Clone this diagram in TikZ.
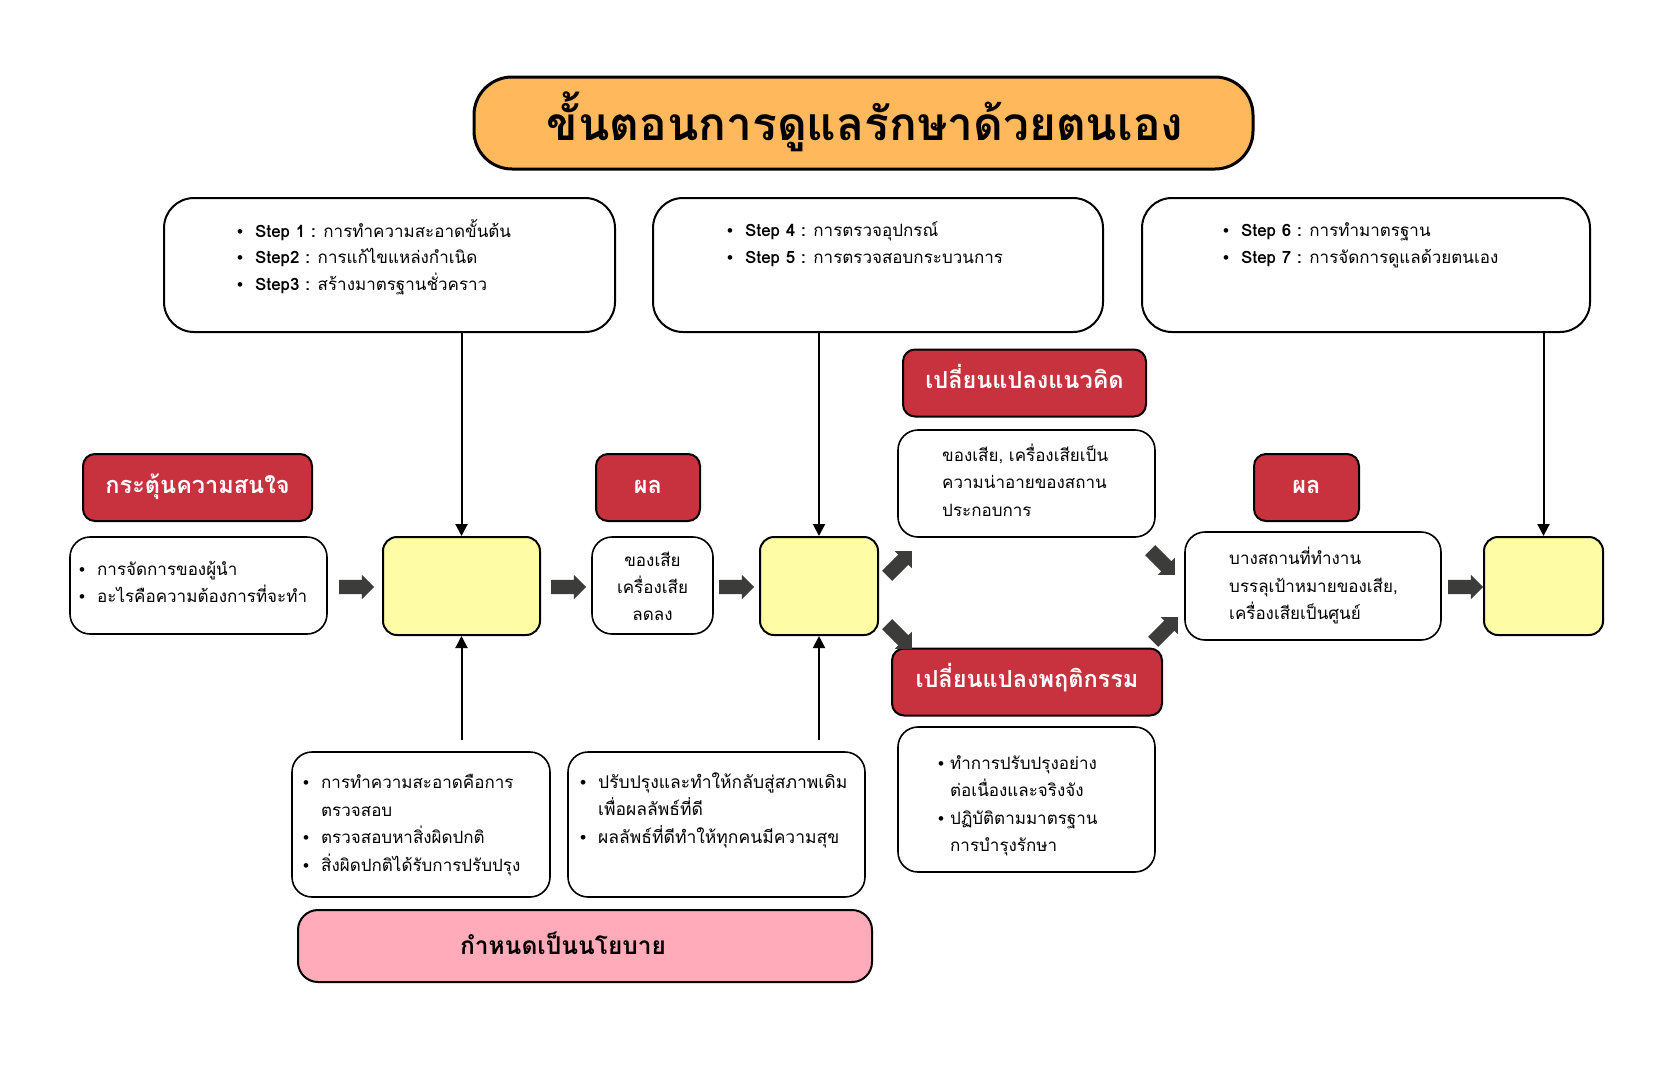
\documentclass[tikz,border=0pt]{standalone}
\usepackage{fontspec}
\usetikzlibrary{shapes.arrows,arrows.meta}
\newfontfamily\thai[Script=Thai]{Loma}
\newfontfamily\bulfont{Liberation Sans}
\definecolor{titleor}{HTML}{FFB85C}
\definecolor{lblred}{HTML}{C8313E}
\definecolor{lyel}{HTML}{FFFCA6}
\definecolor{lpink}{HTML}{FFABBA}
\definecolor{darr}{HTML}{3C3C3A}
\newcommand\bul{\makebox[18pt][l]{\bulfont •}}
\newcommand\bulx{\makebox[12pt][l]{\bulfont •}}
\newcommand\ind{\hspace*{18pt}}
\newcommand\indx{\hspace*{12pt}}
\tikzset{
  titlebox/.style={draw, line width=3pt, fill=titleor, rounded corners=38pt,
    minimum width=779pt, minimum height=92pt, inner sep=0pt},
  stepbox/.style={draw, line width=2pt, fill=white, rounded corners=30pt,
    minimum height=134pt, inner sep=0pt},
  redlbl/.style={draw, line width=2pt, fill=lblred, rounded corners=12pt,
    minimum height=67pt, inner sep=0pt, text=white, text height=17pt, text depth=6pt,
    font=\thai\bfseries\fontsize{23.5}{28}\selectfont},
  wbox/.style={draw, line width=1.6pt, fill=white, rounded corners=20pt, inner sep=0pt},
  ybox/.style={draw, line width=2pt, fill=lyel, rounded corners=14pt, inner sep=0pt},
  pinkbox/.style={draw, line width=2pt, fill=lpink, rounded corners=20pt, inner sep=0pt},
  txt/.style={font=\thai\fontsize{17}{26}\selectfont, align=left, inner sep=0pt},
  barrow/.style={single arrow, fill=darr, draw=none, minimum height=35pt,
    text height=7pt, text depth=7pt, text width=0pt,
    single arrow head extend=5pt, inner sep=0pt},
  conn/.style={line width=2pt, -{Triangle[length=12pt,width=12pt]}},
}
\begin{document}
\begin{tikzpicture}[x=1pt,y=-1pt]
\fill[white] (0,0) rectangle (1680,1080);
\useasboundingbox (0,0) rectangle (1680,1080);

% title
\node[titlebox] (title) at (863.5,123) {};
\node[font=\thai\bfseries\fontsize{46}{54}\selectfont, inner sep=0pt, text height=33pt, text depth=11pt] (titletxt) at (865,129) {ขั้นตอนการดูแลรักษาด้วยตนเอง};

% step boxes
\node[stepbox, minimum width=451pt] (sA) at (389.5,265) {};
\node[stepbox, minimum width=450pt] (sB) at (878,265) {};
\node[stepbox, minimum width=448pt] (sC) at (1366,265) {};
\node[txt, anchor=west, font=\thai\fontsize{17}{26.5}\selectfont] (tA) at (237,257)
  {\bul\textbf{Step 1 :} การทำความสะอาดขั้นต้น\\ \bul\textbf{Step2 :} การแก้ไขแหล่งกำเนิด\\ \bul\textbf{Step3 :} สร้างมาตรฐานชั่วคราว};
\node[txt, anchor=west, font=\thai\fontsize{17}{26.5}\selectfont] (tB) at (727,244)
  {\bul\textbf{Step 4 :} การตรวจอุปกรณ์\\ \bul\textbf{Step 5 :} การตรวจสอบกระบวนการ};
\node[txt, anchor=west, font=\thai\fontsize{17}{26.5}\selectfont] (tC) at (1223,245.5)
  {\bul\textbf{Step 6 :} การทำมาตรฐาน\\ \bul\textbf{Step 7 :} การจัดการดูแลด้วยตนเอง};

% red labels
\node[redlbl, minimum width=229pt] (r1) at (197.5,487.5) {กระตุ้นความสนใจ};
\node[redlbl, minimum width=104pt] (r2) at (648,487.5) {ผล};
\node[redlbl, minimum width=243pt] (r3) at (1024.5,383) {เปลี่ยนแปลงแนวคิด};
\node[redlbl, minimum width=270pt] (r4) at (1027,682) {เปลี่ยนแปลงพฤติกรรม};
\node[redlbl, minimum width=105pt] (r5) at (1306.5,487.5) {ผล};

% white boxes
\node[wbox, minimum width=257pt, minimum height=97pt] (w1) at (198.5,585.5) {};
\node[txt, anchor=west, font=\thai\fontsize{17}{27}\selectfont] (w1t) at (79,582)
  {\bul การจัดการของผู้นำ\\ \bul อะไรคือความต้องการที่จะทำ};
\node[wbox, minimum width=121pt, minimum height=97pt] (w2) at (652.5,585.5) {};
\node[txt, align=center, font=\thai\fontsize{17}{27}\selectfont] (w2t) at (652.5,586)
  {ของเสีย\\ เครื่องเสีย\\ ลดลง};
\node[wbox, minimum width=257pt, minimum height=107pt] (w3) at (1026.5,483.5) {};
\node[txt, anchor=west, font=\thai\fontsize{17}{27.5}\selectfont] (w3t) at (942,480)
  {ของเสีย, เครื่องเสียเป็น\\ ความน่าอายของสถาน\\ ประกอบการ};
\node[wbox, minimum width=257pt, minimum height=145pt] (w4) at (1026.5,799.5) {};
\node[txt, anchor=west, font=\thai\fontsize{17}{27.5}\selectfont] (w4t) at (938,806)
  {\bulx ทำการปรับปรุงอย่าง\\ \indx ต่อเนื่องและจริงจัง\\ \bulx ปฏิบัติตามมาตรฐาน\\ \indx การบำรุงรักษา};
\node[wbox, minimum width=256pt, minimum height=108pt] (w5) at (1313,586) {};
\node[txt, anchor=west, font=\thai\fontsize{17}{27.5}\selectfont] (w5t) at (1229,585.5)
  {บางสถานที่ทำงาน\\ บรรลุเป้าหมายของเสีย,\\ เครื่องเสียเป็นศูนย์};
\node[wbox, minimum width=258pt, minimum height=145pt] (b1) at (421,824.5) {};
\node[txt, anchor=west, font=\thai\fontsize{17}{27.5}\selectfont] (b1t) at (303,825)
  {\bul การทำความสะอาดคือการ\\ \ind ตรวจสอบ\\ \bul ตรวจสอบหาสิ่งผิดปกติ\\ \bul สิ่งผิดปกติได้รับการปรับปรุง};
\node[wbox, minimum width=297pt, minimum height=145pt] (b2) at (716.5,824.5) {};
\node[txt, anchor=west, font=\thai\fontsize{17.5}{27.5}\selectfont] (b2t) at (580,810)
  {\bul ปรับปรุงและทำให้กลับสู่สภาพเดิม\\ \ind เพื่อผลลัพธ์ที่ดี\\ \bul ผลลัพธ์ที่ดีทำให้ทุกคนมีความสุข};

% pink policy box
\node[pinkbox, minimum width=574pt, minimum height=72pt] (pk) at (585,946) {};
\node[font=\thai\bfseries\fontsize{24.5}{28}\selectfont, inner sep=0pt, text height=17pt, text depth=6pt] (pkt) at (563,949) {กำหนดเป็นนโยบาย};

% yellow boxes
\node[ybox, minimum width=157pt, minimum height=98pt] (y1) at (461.5,586) {};
\node[ybox, minimum width=118pt, minimum height=98pt] (y2) at (819,586) {};
\node[ybox, minimum width=119pt, minimum height=98pt] (y3) at (1543.5,586) {};

% block arrows
\node[barrow] (a1) at (353,587) {};
\node[barrow] (a0) at (565,587) {};
\node[barrow] (a2) at (733,587) {};
\node[barrow] (a5) at (1462,587) {};
\node[barrow, rotate=45] (d1) at (897,566) {};
\node[barrow, rotate=-45] (d2) at (897,634) {};
\node[barrow, rotate=-45] (d3) at (1160,560) {};
\node[barrow, rotate=45] (d4) at (1163,632) {};

% connectors
\coordinate (u1) at (461.5,740);
\coordinate (u2) at (819,740);
\draw[conn] (sA.south -| y1.north) -- (y1.north);
\draw[conn] (sB.south -| y2.north) -- (y2.north);
\draw[conn] (sC.south -| y3.north) -- (y3.north);
\draw[conn] (u1) -- (y1.south);
\draw[conn] (u2) -- (y2.south);
\end{tikzpicture}
\end{document}
